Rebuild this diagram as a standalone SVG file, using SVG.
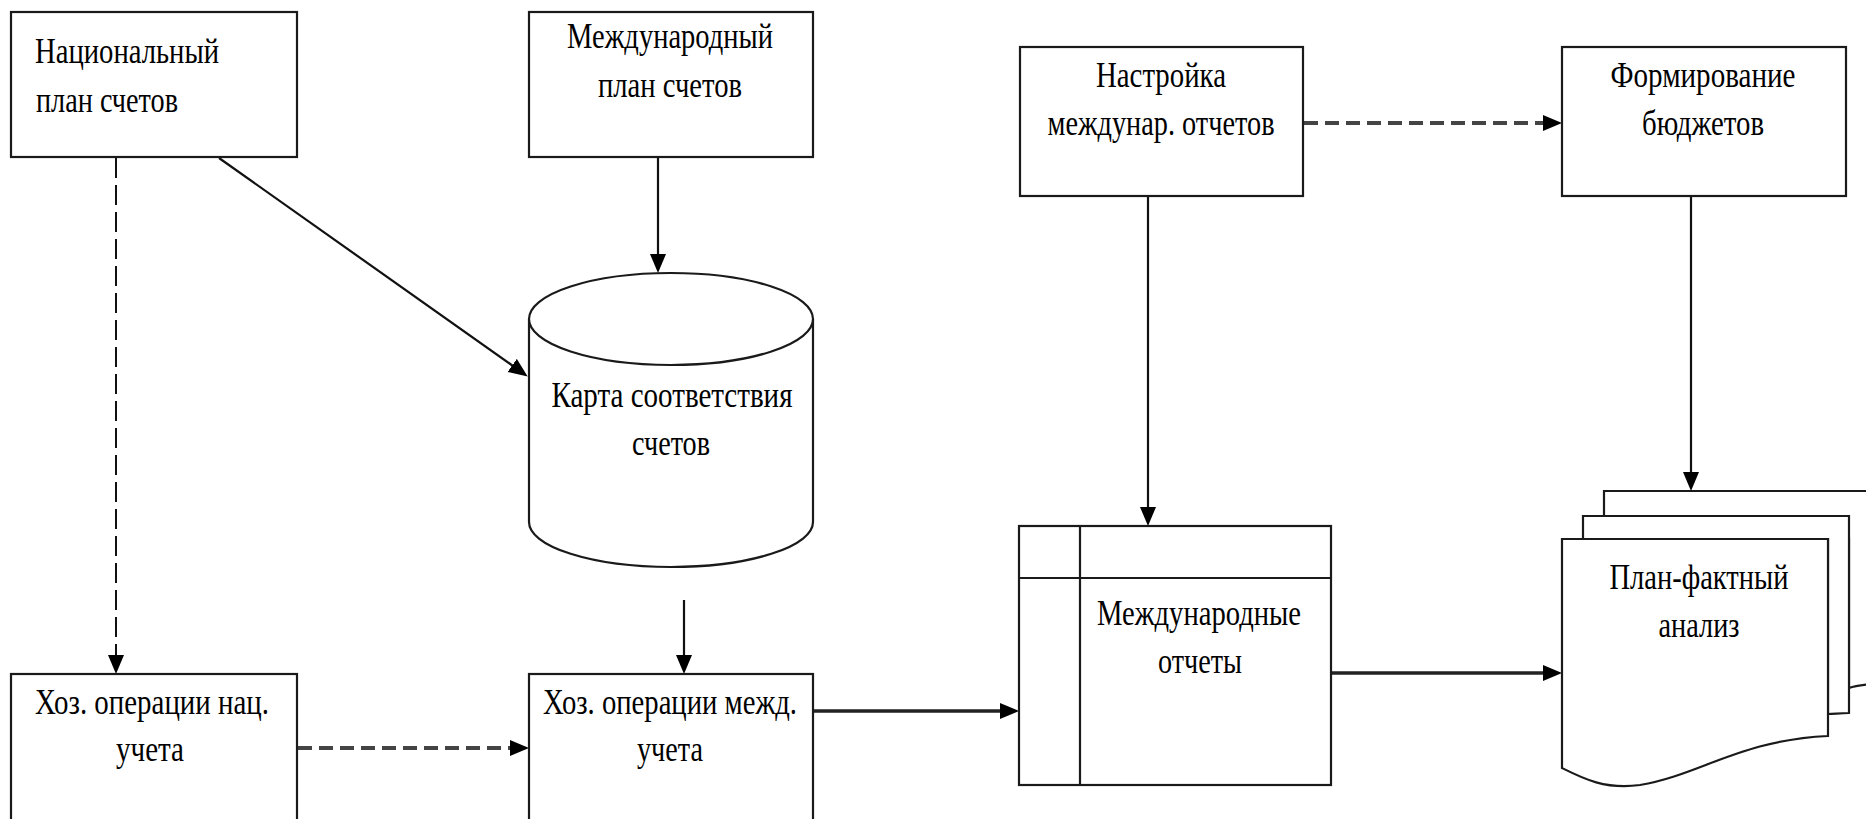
<svg xmlns="http://www.w3.org/2000/svg" width="1866" height="819" viewBox="0 0 1866 819">
<style>
.box{fill:#fff;stroke:#1a1a1a;stroke-width:2.2}
.t{font-family:"Liberation Serif","Times New Roman",serif;font-size:36px;fill:#000}
.m{text-anchor:middle}
.ln{fill:none;stroke:#111;stroke-width:2.2}
.thick{fill:none;stroke:#222;stroke-width:3.5}
.dv{fill:none;stroke:#111;stroke-width:2;stroke-dasharray:20 7}
.dh{fill:none;stroke:#444;stroke-width:3.8;stroke-dasharray:14 7}
</style>
<defs>
<marker id="ah" markerUnits="userSpaceOnUse" markerWidth="22" markerHeight="18" refX="1" refY="8" orient="auto">
<path d="M0,0 L19,8 L0,16 z" fill="#000"/>
</marker>
</defs>
<rect width="1866" height="819" fill="#fff"/>

<g id="connectors">
<line class="dv" x1="116" y1="158" x2="116" y2="656" marker-end="url(#ah)"/>
<line class="ln" x1="219" y1="158" x2="513" y2="366" marker-end="url(#ah)"/>
<line class="ln" x1="658" y1="157" x2="658" y2="255" marker-end="url(#ah)"/>
<line class="ln" x1="684" y1="600" x2="684" y2="656" marker-end="url(#ah)"/>
<line class="dh" x1="298" y1="748" x2="511" y2="748" marker-end="url(#ah)"/>
<line class="thick" x1="813" y1="711" x2="1001" y2="711" marker-end="url(#ah)"/>
<line class="ln" x1="1148" y1="196" x2="1148" y2="508" marker-end="url(#ah)"/>
<line class="dh" x1="1304" y1="123" x2="1544" y2="123" marker-end="url(#ah)"/>
<line class="ln" x1="1691" y1="196" x2="1691" y2="473" marker-end="url(#ah)"/>
<line class="thick" x1="1331" y1="673" x2="1544" y2="673" marker-end="url(#ah)"/>
</g>

<g id="n-national-plan">
<rect class="box" x="11" y="12" width="286" height="145"/>
<text class="t" x="35" y="63" textLength="184" lengthAdjust="spacingAndGlyphs">Национальный</text>
<text class="t" x="36" y="112" textLength="142" lengthAdjust="spacingAndGlyphs">план счетов</text>
</g>

<g id="n-intl-plan">
<rect class="box" x="529" y="12" width="284" height="145"/>
<text class="t m" x="670" y="48" textLength="206" lengthAdjust="spacingAndGlyphs">Международный</text>
<text class="t m" x="670" y="97" textLength="144" lengthAdjust="spacingAndGlyphs">план счетов</text>
</g>

<g id="n-map">
<path class="box" d="M529,319 A142,46 0 0 1 813,319 L813,522 A142,45 0 0 1 529,522 Z"/>
<path class="box" fill="none" d="M529,319 A142,46 0 0 0 813,319"/>
<text class="t m" x="672" y="407" textLength="241" lengthAdjust="spacingAndGlyphs">Карта соответствия</text>
<text class="t m" x="671" y="455" textLength="78" lengthAdjust="spacingAndGlyphs">счетов</text>
</g>

<g id="n-ops-nat">
<rect class="box" x="11" y="674" width="286" height="160"/>
<text class="t m" x="152" y="714" textLength="234" lengthAdjust="spacingAndGlyphs">Хоз. операции нац.</text>
<text class="t m" x="150" y="761" textLength="68" lengthAdjust="spacingAndGlyphs">учета</text>
</g>

<g id="n-ops-intl">
<rect class="box" x="529" y="674" width="284" height="160"/>
<text class="t m" x="670" y="714" textLength="254" lengthAdjust="spacingAndGlyphs">Хоз. операции межд.</text>
<text class="t m" x="670" y="761" textLength="66" lengthAdjust="spacingAndGlyphs">учета</text>
</g>

<g id="n-setup">
<rect class="box" x="1020" y="47" width="283" height="149"/>
<text class="t m" x="1161" y="87" textLength="130" lengthAdjust="spacingAndGlyphs">Настройка</text>
<text class="t m" x="1161" y="135" textLength="227" lengthAdjust="spacingAndGlyphs">междунар. отчетов</text>
</g>

<g id="n-budget">
<rect class="box" x="1562" y="47" width="284" height="149"/>
<text class="t m" x="1703" y="87" textLength="185" lengthAdjust="spacingAndGlyphs">Формирование</text>
<text class="t m" x="1703" y="135" textLength="122" lengthAdjust="spacingAndGlyphs">бюджетов</text>
</g>

<g id="n-intl-reports">
<rect class="box" x="1019" y="526" width="312" height="259"/>
<line class="box" x1="1080" y1="526" x2="1080" y2="785"/>
<line class="box" x1="1019" y1="578" x2="1331" y2="578"/>
<text class="t m" x="1199" y="625" textLength="204" lengthAdjust="spacingAndGlyphs">Международные</text>
<text class="t m" x="1200" y="673" textLength="84" lengthAdjust="spacingAndGlyphs">отчеты</text>
</g>

<g id="n-plan-fact">
<path class="box" d="M1604,539 V491 H1872 V684 C1862,685 1855,686 1849,688 L1849,539 Z"/>
<path class="box" d="M1583,539 V516 H1849 V713 C1840,713 1834,714 1828,714 L1828,539 Z"/>
<path class="box" d="M1562,539 H1828 V736 C1740,740 1700,775 1640,785 C1605,790 1582,778 1562,768 Z"/>
<text class="t m" x="1699" y="589" textLength="179" lengthAdjust="spacingAndGlyphs">План-фактный</text>
<text class="t m" x="1699" y="637" textLength="81" lengthAdjust="spacingAndGlyphs">анализ</text>
</g>
</svg>
